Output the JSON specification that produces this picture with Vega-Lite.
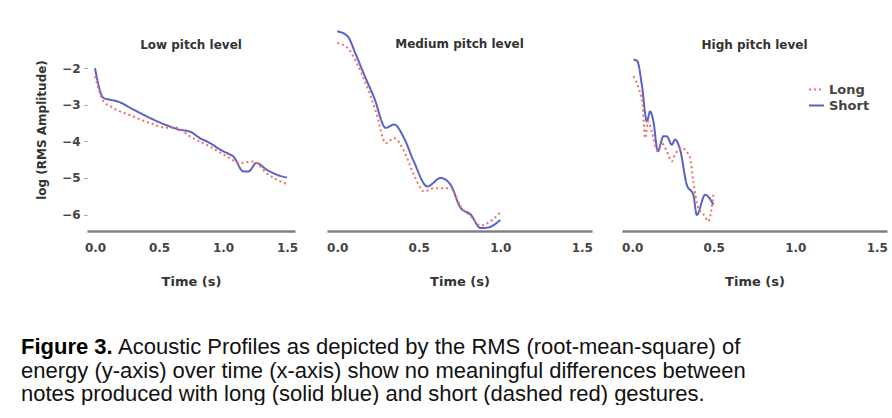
{
  "$schema": "https://vega.github.io/schema/vega-lite/v6.json",
  "padding": {"left": 21, "top": 27, "right": 0, "bottom": 0},
  "background": "white",
  "config": {
    "view": {"stroke": null},
    "font": "DejaVu Sans",
    "axis": {"grid": false, "labelFont": "DejaVu Sans", "titleFont": "DejaVu Sans", "labelFontSize": 12, "labelFontWeight": "bold", "labelColor": "#444", "titleFontSize": 12, "titleFontWeight": "bold", "titleColor": "#333"},
    "axisX": {"domainColor": "#808080", "domainWidth": 2.5, "ticks": false, "tickSize": 0, "labelPadding": 11, "titlePadding": 22, "titleFontSize": 13, "labelFlush": false},
    "axisY": {"domain": false, "ticks": true, "tickSize": 3, "tickColor": "#999", "labelPadding": 4, "titlePadding": 13},
    "title": {"font": "DejaVu Sans", "fontSize": 12, "fontWeight": "bold", "color": "#333", "anchor": "middle", "frame": "group", "baseline": "top", "offset": -24},
    "legend": {"labelFont": "DejaVu Sans", "labelFontSize": 13, "labelFontWeight": "bold", "labelColor": "#444", "symbolType": "stroke", "symbolSize": 225, "symbolStrokeWidth": 2, "rowPadding": 0, "padding": 0}
  },
  "datasets": {
    "curves": [
      {"p": "Low", "s": "Short", "t": 0, "v": -2.0},
      {"p": "Low", "s": "Short", "t": 0.065, "v": -2.81},
      {"p": "Low", "s": "Short", "t": 0.117, "v": -2.86},
      {"p": "Low", "s": "Short", "t": 0.17, "v": -2.9},
      {"p": "Low", "s": "Short", "t": 0.3, "v": -3.13},
      {"p": "Low", "s": "Short", "t": 0.43, "v": -3.36},
      {"p": "Low", "s": "Short", "t": 0.56, "v": -3.56},
      {"p": "Low", "s": "Short", "t": 0.66, "v": -3.68},
      {"p": "Low", "s": "Short", "t": 0.74, "v": -3.73},
      {"p": "Low", "s": "Short", "t": 0.82, "v": -3.91},
      {"p": "Low", "s": "Short", "t": 0.9, "v": -4.05},
      {"p": "Low", "s": "Short", "t": 0.98, "v": -4.23},
      {"p": "Low", "s": "Short", "t": 1.05, "v": -4.35},
      {"p": "Low", "s": "Short", "t": 1.08, "v": -4.41},
      {"p": "Low", "s": "Short", "t": 1.16, "v": -4.82},
      {"p": "Low", "s": "Short", "t": 1.2, "v": -4.82},
      {"p": "Low", "s": "Short", "t": 1.26, "v": -4.59},
      {"p": "Low", "s": "Short", "t": 1.34, "v": -4.77},
      {"p": "Low", "s": "Short", "t": 1.42, "v": -4.91},
      {"p": "Low", "s": "Short", "t": 1.5, "v": -4.99},
      {"p": "Low", "s": "Long", "t": 0, "v": -2.22},
      {"p": "Low", "s": "Long", "t": 0.065, "v": -2.9},
      {"p": "Low", "s": "Long", "t": 0.12, "v": -3.04},
      {"p": "Low", "s": "Long", "t": 0.3, "v": -3.32},
      {"p": "Low", "s": "Long", "t": 0.43, "v": -3.5},
      {"p": "Low", "s": "Long", "t": 0.56, "v": -3.63},
      {"p": "Low", "s": "Long", "t": 0.64, "v": -3.63},
      {"p": "Low", "s": "Long", "t": 0.74, "v": -3.86},
      {"p": "Low", "s": "Long", "t": 0.87, "v": -4.09},
      {"p": "Low", "s": "Long", "t": 1.03, "v": -4.41},
      {"p": "Low", "s": "Long", "t": 1.13, "v": -4.59},
      {"p": "Low", "s": "Long", "t": 1.24, "v": -4.55},
      {"p": "Low", "s": "Long", "t": 1.34, "v": -4.87},
      {"p": "Low", "s": "Long", "t": 1.5, "v": -5.17},
      {"p": "Medium", "s": "Short", "t": 0, "v": -0.99},
      {"p": "Medium", "s": "Short", "t": 0.063, "v": -1.12},
      {"p": "Medium", "s": "Short", "t": 0.114, "v": -1.62},
      {"p": "Medium", "s": "Short", "t": 0.165, "v": -2.17},
      {"p": "Medium", "s": "Short", "t": 0.227, "v": -2.81},
      {"p": "Medium", "s": "Short", "t": 0.298, "v": -3.63},
      {"p": "Medium", "s": "Short", "t": 0.349, "v": -3.54},
      {"p": "Medium", "s": "Short", "t": 0.41, "v": -3.91},
      {"p": "Medium", "s": "Short", "t": 0.47, "v": -4.55},
      {"p": "Medium", "s": "Short", "t": 0.553, "v": -5.23},
      {"p": "Medium", "s": "Short", "t": 0.635, "v": -5.0},
      {"p": "Medium", "s": "Short", "t": 0.696, "v": -5.19},
      {"p": "Medium", "s": "Short", "t": 0.757, "v": -5.82},
      {"p": "Medium", "s": "Short", "t": 0.818, "v": -6.0},
      {"p": "Medium", "s": "Short", "t": 0.88, "v": -6.37},
      {"p": "Medium", "s": "Short", "t": 0.92, "v": -6.36},
      {"p": "Medium", "s": "Short", "t": 1.0, "v": -6.15},
      {"p": "Medium", "s": "Long", "t": 0, "v": -1.31},
      {"p": "Medium", "s": "Long", "t": 0.063, "v": -1.44},
      {"p": "Medium", "s": "Long", "t": 0.124, "v": -1.9},
      {"p": "Medium", "s": "Long", "t": 0.186, "v": -2.54},
      {"p": "Medium", "s": "Long", "t": 0.237, "v": -3.18},
      {"p": "Medium", "s": "Long", "t": 0.298, "v": -4.05},
      {"p": "Medium", "s": "Long", "t": 0.349, "v": -3.91},
      {"p": "Medium", "s": "Long", "t": 0.41, "v": -4.27},
      {"p": "Medium", "s": "Long", "t": 0.47, "v": -4.91},
      {"p": "Medium", "s": "Long", "t": 0.533, "v": -5.37},
      {"p": "Medium", "s": "Long", "t": 0.594, "v": -5.28},
      {"p": "Medium", "s": "Long", "t": 0.696, "v": -5.28},
      {"p": "Medium", "s": "Long", "t": 0.757, "v": -5.78},
      {"p": "Medium", "s": "Long", "t": 0.818, "v": -6.05},
      {"p": "Medium", "s": "Long", "t": 0.88, "v": -6.3},
      {"p": "Medium", "s": "Long", "t": 0.92, "v": -6.24},
      {"p": "Medium", "s": "Long", "t": 1.0, "v": -5.94},
      {"p": "High", "s": "Short", "t": 0.008, "v": -1.76},
      {"p": "High", "s": "Short", "t": 0.032, "v": -1.81},
      {"p": "High", "s": "Short", "t": 0.059, "v": -2.45},
      {"p": "High", "s": "Short", "t": 0.09, "v": -3.45},
      {"p": "High", "s": "Short", "t": 0.11, "v": -3.18},
      {"p": "High", "s": "Short", "t": 0.13, "v": -3.45},
      {"p": "High", "s": "Short", "t": 0.157, "v": -4.27},
      {"p": "High", "s": "Short", "t": 0.192, "v": -3.86},
      {"p": "High", "s": "Short", "t": 0.212, "v": -3.86},
      {"p": "High", "s": "Short", "t": 0.243, "v": -4.09},
      {"p": "High", "s": "Short", "t": 0.263, "v": -3.95},
      {"p": "High", "s": "Short", "t": 0.294, "v": -4.23},
      {"p": "High", "s": "Short", "t": 0.335, "v": -5.19},
      {"p": "High", "s": "Short", "t": 0.375, "v": -5.46},
      {"p": "High", "s": "Short", "t": 0.396, "v": -6.01},
      {"p": "High", "s": "Short", "t": 0.447, "v": -5.46},
      {"p": "High", "s": "Short", "t": 0.498, "v": -5.73},
      {"p": "High", "s": "Long", "t": 0.008, "v": -2.22},
      {"p": "High", "s": "Long", "t": 0.039, "v": -2.54},
      {"p": "High", "s": "Long", "t": 0.063, "v": -2.99},
      {"p": "High", "s": "Long", "t": 0.08, "v": -3.91},
      {"p": "High", "s": "Long", "t": 0.096, "v": -3.45},
      {"p": "High", "s": "Long", "t": 0.12, "v": -3.73},
      {"p": "High", "s": "Long", "t": 0.151, "v": -4.23},
      {"p": "High", "s": "Long", "t": 0.182, "v": -4.05},
      {"p": "High", "s": "Long", "t": 0.212, "v": -4.27},
      {"p": "High", "s": "Long", "t": 0.243, "v": -4.55},
      {"p": "High", "s": "Long", "t": 0.263, "v": -4.36},
      {"p": "High", "s": "Long", "t": 0.304, "v": -4.18},
      {"p": "High", "s": "Long", "t": 0.355, "v": -4.45},
      {"p": "High", "s": "Long", "t": 0.375, "v": -5.1},
      {"p": "High", "s": "Long", "t": 0.406, "v": -5.83},
      {"p": "High", "s": "Long", "t": 0.447, "v": -6.05},
      {"p": "High", "s": "Long", "t": 0.467, "v": -6.19},
      {"p": "High", "s": "Long", "t": 0.498, "v": -5.46}
    ],
    "caption": [
      {"line": 1, "part": "bold", "text": "Figure 3."},
      {"line": 1, "part": "head", "text": "Acoustic Profiles as depicted by the RMS (root-mean-square) of"},
      {"line": 2, "part": "body", "text": "energy (y-axis) over time (x-axis) show no meaningful differences between"},
      {"line": 3, "part": "body", "text": "notes produced with long (solid blue) and short (dashed red) gestures."}
    ]
  },
  "spacing": 48,
  "vconcat": [
    {
      "spacing": 28,
      "resolve": {"scale": {"x": "independent", "color": "independent", "strokeDash": "independent"}},
      "hconcat": [
        {
          "width": 208, "height": 203,
          "title": {"text": "Low pitch level"},
          "data": {"name": "curves"},
          "transform": [{"filter": "datum.p == 'Low'"}],
          "mark": {"type": "line", "strokeWidth": 2, "interpolate": "monotone"},
          "encoding": {
            "x": {"field": "t", "type": "quantitative", "scale": {"domain": [-0.0625, 1.5625], "nice": false, "zero": false}, "axis": {"values": [0, 0.5, 1, 1.5], "format": ".1f", "title": "Time (s)"}},
            "y": {"field": "v", "type": "quantitative", "scale": {"domain": [-6.45, -0.9], "nice": false, "zero": false}, "axis": {"values": [-2, -3, -4, -5, -6], "format": "d", "title": "log (RMS Amplitude)"}},
            "color": {"field": "s", "type": "nominal", "scale": {"domain": ["Long", "Short"], "range": ["#f46d5e", "#5a62c4"]}, "legend": null},
            "strokeDash": {"field": "s", "type": "nominal", "scale": {"domain": ["Long", "Short"], "range": [[2, 3], [1, 0]]}, "legend": null}
          }
        },
        {
          "width": 265, "height": 203,
          "title": {"text": "Medium pitch level"},
          "data": {"name": "curves"},
          "transform": [{"filter": "datum.p == 'Medium'"}],
          "mark": {"type": "line", "strokeWidth": 2, "interpolate": "monotone"},
          "encoding": {
            "x": {"field": "t", "type": "quantitative", "scale": {"domain": [-0.0625, 1.5625], "nice": false, "zero": false}, "axis": {"values": [0, 0.5, 1, 1.5], "format": ".1f", "title": "Time (s)"}},
            "y": {"field": "v", "type": "quantitative", "scale": {"domain": [-6.45, -0.9], "nice": false, "zero": false}, "axis": null},
            "color": {"field": "s", "type": "nominal", "scale": {"domain": ["Long", "Short"], "range": ["#f46d5e", "#5a62c4"]}, "legend": null},
            "strokeDash": {"field": "s", "type": "nominal", "scale": {"domain": ["Long", "Short"], "range": [[2, 3], [1, 0]]}, "legend": null}
          }
        },
        {
          "width": 265, "height": 203,
          "title": {"text": "High pitch level"},
          "data": {"name": "curves"},
          "transform": [{"filter": "datum.p == 'High'"}],
          "mark": {"type": "line", "strokeWidth": 2, "interpolate": "monotone"},
          "encoding": {
            "x": {"field": "t", "type": "quantitative", "scale": {"domain": [-0.0625, 1.5625], "nice": false, "zero": false}, "axis": {"values": [0, 0.5, 1, 1.5], "format": ".1f", "title": "Time (s)"}},
            "y": {"field": "v", "type": "quantitative", "scale": {"domain": [-6.45, -0.9], "nice": false, "zero": false}, "axis": null},
            "color": {"field": "s", "type": "nominal", "scale": {"domain": ["Long", "Short"], "range": ["#f46d5e", "#5a62c4"]}, "legend": {"title": null, "orient": "none", "legendX": 186, "legendY": 53}},
            "strokeDash": {"field": "s", "type": "nominal", "scale": {"domain": ["Long", "Short"], "range": [[2, 3], [1, 0]]}, "legend": {"title": null, "orient": "none", "legendX": 186, "legendY": 53}}
          }
        }
      ]
    },
    {
      "width": 790, "height": 47,
      "data": {"name": "caption"},
      "encoding": {
        "y": {"field": "line", "type": "quantitative", "scale": {"domain": [1, 3], "reverse": true}, "axis": null},
        "text": {"field": "text"},
        "x": {"value": 0}
      },
      "layer": [
        {"transform": [{"filter": "datum.part == 'bold'"}], "mark": {"type": "text", "align": "left", "baseline": "alphabetic", "font": "Liberation Sans", "fontSize": 22, "fontWeight": "bold", "color": "#000", "dx": -66}},
        {"transform": [{"filter": "datum.part == 'head'"}], "mark": {"type": "text", "align": "left", "baseline": "alphabetic", "font": "Liberation Sans", "fontSize": 22, "color": "#111", "dx": 31}},
        {"transform": [{"filter": "datum.part == 'body'"}], "mark": {"type": "text", "align": "left", "baseline": "alphabetic", "font": "Liberation Sans", "fontSize": 22, "color": "#111", "dx": -66}}
      ]
    }
  ]
}
